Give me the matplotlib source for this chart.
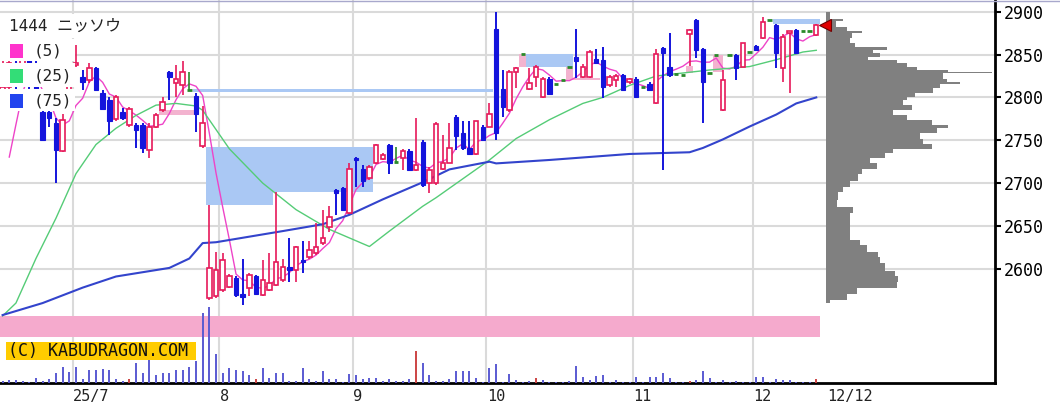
import numpy as np
import matplotlib
matplotlib.use("Agg")
import matplotlib.pyplot as plt
from matplotlib.patches import Rectangle
from matplotlib.lines import Line2D

# ---- daily candles, index 0 = 2025-06-16 ... 122 = 2025-12-12 ----
opens = [2800, 2812, 2840, 2830, 2845, 2815, 2783, 2783, 2770, 2738,
         2790, 2838, 2824, 2820, 2834, 2805, 2797, 2775, 2783, 2768,
         2768, 2768, 2739, 2766, 2785, 2830, 2817, 2815, 2809, 2802,
         2743, 2566, 2568, 2575, 2579, 2589, 2571, 2578, 2591, 2569,
         2575, 2581, 2587, 2602, 2599, 2610, 2614, 2618, 2630, 2649,
         2692, 2694, 2665, 2729, 2717, 2706, 2723, 2728, 2744, 2725,
         2729, 2738, 2715, 2748, 2700, 2700, 2716, 2724, 2777, 2758,
         2741, 2734, 2766, 2766, 2880, 2810, 2785, 2830, 2851, 2810,
         2824, 2800, 2822, 2816, 2820, 2836, 2847, 2824, 2824, 2845,
         2844, 2814, 2820, 2826, 2818, 2822, 2812, 2816, 2793, 2858,
         2836, 2827, 2826, 2874, 2890, 2857, 2828, 2850, 2785, 2850,
         2850, 2836, 2853, 2860, 2869, 2890, 2885, 2834, 2875, 2879,
         2877, 2877, 2873]
highs = [2845, 2848, 2850, 2855, 2850, 2845, 2790, 2790, 2776, 2781,
         2830, 2861, 2832, 2840, 2836, 2809, 2801, 2803, 2788, 2789,
         2770, 2770, 2770, 2782, 2801, 2831, 2838, 2842, 2830, 2805,
         2790, 2675, 2620, 2618, 2594, 2591, 2612, 2595, 2593, 2610,
         2618, 2690, 2611, 2636, 2627, 2632, 2632, 2653, 2669, 2673,
         2693, 2695, 2723, 2730, 2721, 2721, 2746, 2735, 2746, 2742,
         2740, 2740, 2776, 2750, 2719, 2771, 2756, 2770, 2779, 2772,
         2772, 2773, 2768, 2794, 2900, 2832, 2832, 2835, 2851, 2834,
         2838, 2824, 2824, 2816, 2820, 2836, 2880, 2839, 2855, 2857,
         2859, 2826, 2827, 2827, 2823, 2824, 2812, 2818, 2857, 2859,
         2875, 2827, 2826, 2880, 2891, 2858, 2828, 2850, 2832, 2850,
         2851, 2864, 2853, 2861, 2894, 2890, 2886, 2874, 2877, 2880,
         2877, 2877, 2886]
lows = [2795, 2805, 2810, 2815, 2805, 2795, 2750, 2766, 2700, 2736,
        2788, 2836, 2809, 2817, 2808, 2785, 2756, 2772, 2774, 2766,
        2741, 2735, 2729, 2764, 2783, 2797, 2801, 2803, 2808, 2760,
        2741, 2564, 2566, 2573, 2577, 2567, 2558, 2568, 2569, 2568,
        2574, 2580, 2585, 2585, 2585, 2595, 2612, 2616, 2628, 2643,
        2663, 2668, 2664, 2696, 2696, 2704, 2722, 2727, 2711, 2723,
        2715, 2714, 2714, 2696, 2688, 2698, 2715, 2723, 2739, 2739,
        2733, 2733, 2749, 2765, 2750, 2777, 2783, 2811, 2851, 2809,
        2812, 2799, 2803, 2816, 2820, 2836, 2823, 2823, 2823, 2839,
        2799, 2812, 2812, 2808, 2816, 2800, 2812, 2808, 2792, 2715,
        2824, 2827, 2826, 2837, 2846, 2770, 2828, 2850, 2784, 2850,
        2820, 2835, 2853, 2854, 2868, 2890, 2834, 2818, 2805, 2851,
        2877, 2877, 2872]
closes = [2812, 2840, 2830, 2845, 2815, 2800, 2750, 2776, 2739, 2774,
          2824, 2840, 2818, 2834, 2809, 2787, 2772, 2800, 2776, 2787,
          2762, 2741, 2766, 2780, 2795, 2824, 2821, 2830, 2809, 2781,
          2770, 2601, 2598, 2610, 2591, 2569, 2567, 2593, 2571, 2587,
          2583, 2608, 2602, 2598, 2626, 2608, 2622, 2626, 2636, 2661,
          2689, 2669, 2717, 2727, 2702, 2719, 2744, 2733, 2723, 2725,
          2738, 2715, 2721, 2698, 2715, 2769, 2724, 2741, 2755, 2741,
          2734, 2772, 2750, 2781, 2758, 2789, 2830, 2834, 2851, 2817,
          2836, 2822, 2804, 2816, 2820, 2836, 2842, 2836, 2853, 2840,
          2812, 2824, 2825, 2809, 2822, 2801, 2812, 2809, 2851, 2852,
          2826, 2827, 2826, 2879, 2855, 2818, 2828, 2850, 2820, 2850,
          2834, 2863, 2853, 2855, 2888, 2890, 2852, 2871, 2877, 2852,
          2877, 2877, 2884]
prior_closes = [2610, 2640, 2660, 2700]   # closes before the window, for MA5

volumes = [2, 3, 3, 2, 1, 5, 2, 4, 10, 16,
           11, 16, 4, 13, 13, 14, 13, 4, 2, 4,
           20, 10, 23, 8, 10, 10, 13, 13, 16, 22,
           70, 76, 29, 10, 15, 13, 12, 8, 4, 15,
           5, 10, 10, 2, 2, 15, 4, 2, 12, 4,
           4, 1, 9, 8, 4, 5, 5, 2, 4, 2,
           2, 4, 32, 20, 8, 2, 2, 4, 12, 12,
           12, 5, 1, 15, 19, 1, 9, 3, 1, 2,
           5, 3, 1, 1, 1, 2, 17, 6, 3, 7,
           8, 1, 3, 1, 1, 6, 1, 6, 6, 10,
           5, 1, 1, 2, 3, 12, 5, 1, 3, 1,
           2, 1, 1, 6, 6, 1, 4, 3, 3, 1,
           1, 1, 4]
vol_red_days = [19, 38, 62, 80, 103, 122]

# moving averages (day index, price)
ma25_idx = [0, 2, 5, 8, 11, 14, 17, 20, 23, 26, 29, 30, 34, 39, 44, 49, 55, 58,
            63, 65, 73, 77, 82, 87, 90, 94, 98, 106, 112, 116, 120, 122]
ma25_val = [2545, 2560, 2612, 2659, 2711, 2745, 2764, 2779, 2791, 2793, 2790, 2785,
            2740, 2700, 2669, 2646, 2626, 2644, 2673, 2683, 2727, 2752, 2774, 2793,
            2800, 2814, 2825, 2832, 2836, 2844, 2853, 2855]
ma75_idx = [0, 3, 6, 12, 17, 25, 28, 30, 32, 42, 48, 52, 57, 63, 67, 73, 74, 82,
            94, 103, 105, 108, 112, 116, 119, 122]
ma75_val = [2546, 2553, 2560, 2578, 2591, 2601, 2612, 2630, 2631, 2644, 2652, 2663,
            2681, 2701, 2716, 2725, 2723, 2727, 2734, 2736, 2741, 2751, 2766, 2780,
            2793, 2800]

# price gaps: start day, end day, low, high, up/down
gap_x0 = [23.5, 28.5, 30.5, 30.5, 77.5, 78.5, 84.5, 85.5, 102.5, 106.5, 115.5]
gap_x1 = [29.5, 73.5, 55.5, 40.5, 78.5, 85.5, 85.5, 89.5, 103.5, 108.0, 122.5]
gap_lo = [2779, 2806, 2690, 2674, 2835, 2836, 2820, 2820, 2828, 2830, 2886]
gap_hi = [2785, 2810, 2742, 2690, 2851, 2851, 2836, 2823, 2837, 2850, 2891]
gap_up = [True, False, False, False, True, False, True, True, True, True, False]

# volume by price (right histogram)
vp_edges = [2560, 2564, 2570, 2578, 2584, 2591, 2597, 2607, 2614, 2620, 2628, 2634,
            2654, 2665, 2672, 2680, 2690, 2695, 2703, 2711, 2717, 2723, 2729, 2735,
            2740, 2746, 2752, 2758, 2764, 2768, 2774, 2780, 2785, 2791, 2797, 2800,
            2805, 2811, 2816, 2818, 2822, 2828, 2830, 2832, 2835, 2840, 2844, 2847,
            2852, 2855, 2859, 2863, 2869, 2875, 2877, 2882, 2889, 2891, 2900]
vp_vol = [4, 21, 31, 71, 72, 69, 59, 54, 52, 41, 34, 24, 24, 27, 11, 12, 17, 24, 32,
          36, 51, 44, 59, 67, 106, 97, 94, 111, 122, 106, 81, 67, 86, 77, 81, 89, 107,
          114, 134, 121, 117, 166, 122, 91, 81, 71, 42, 54, 47, 61, 29, 24, 26, 36,
          21, 10, 17, 4]

month_idx = [10.5, 32.5, 52.5, 72.5, 94.5, 112.5]
month_labels = ["25/7", "8", "9", "10", "11", "12"]
last_label = "12/12"
y_ticks = [2600, 2650, 2700, 2750, 2800, 2850, 2900]

RED = "#e6195a"
BLUE = "#1414dc"
GREEN = "#2a8a2a"

W, H = 1060, 417
fig = plt.figure(figsize=(W / 100, H / 100), dpi=100)
rect = [0, 1 - 383 / H, 995 / W, 383 / H]
ax = fig.add_axes(rect)
ax.set_xlim(-0.39, 148.8)
ax.set_ylim(2466.7, 2913.7)

ax.set_axisbelow(True)
ax.set_xticks(month_idx)
ax.set_yticks(y_ticks)
ax.grid(True, color="#dadada", lw=1.5)
ax.yaxis.tick_right()
ax.tick_params(axis="x", length=0, labelbottom=False)
ax.tick_params(axis="y", direction="out", length=4, width=1.5, pad=2, labelsize=12)
for lab in ax.get_yticklabels():
    lab.set_family("DejaVu Sans Mono")
for s in ["left", "top"]:
    ax.spines[s].set_visible(False)
for s in ["right", "bottom"]:
    ax.spines[s].set_linewidth(2)
    ax.spines[s].set_color("black")

n = len(closes)
idx = np.arange(n)
o = np.array(opens, float)
h = np.array(highs, float)
l = np.array(lows, float)
c = np.array(closes, float)

# pink band under the chart
ax.add_patch(Rectangle((-0.39, 2520.4), 122.55 + 0.39, 24.6, facecolor="#f5aacd",
                       edgecolor="none", zorder=1.2))

# gaps
for x0, x1, lo, hi, up in zip(gap_x0, gap_x1, gap_lo, gap_hi, gap_up):
    ax.add_patch(Rectangle((x0, lo), x1 - x0, hi - lo,
                           facecolor="#f3b3cf" if up else "#aac8f4",
                           edgecolor="none", zorder=1.5))

# volume profile
vp_left = 123.45
vp_scale = 24.9 / 166
for lo, hi, v in zip(vp_edges[:-1], vp_edges[1:], vp_vol):
    ax.add_patch(Rectangle((vp_left, lo), v * vp_scale, hi - lo,
                           facecolor="#808080", edgecolor="none", zorder=2))

# moving averages
all_c = np.concatenate([prior_closes, c])
ma5 = np.convolve(all_c, np.ones(5) / 5, mode="valid")
ax.plot(idx[1:], ma5[1:], color="#ee44c8", lw=1.0, zorder=3)
ax.plot(ma25_idx, ma25_val, color="#55cc77", lw=1.0, zorder=3)
ax.plot(ma75_idx, ma75_val, color="#3344cc", lw=1.5, zorder=3)

# candles
up = c > o
dn = c < o
eq = c == o
bw = 0.66
ax.vlines(idx[up], l[up], h[up], color=RED, lw=1.2, zorder=4)
ax.vlines(idx[dn], l[dn], h[dn], color=BLUE, lw=1.4, zorder=4)
ax.vlines(idx[eq], l[eq], h[eq], color=GREEN, lw=1.2, zorder=4)
body_lo = np.minimum(o, c)
body_h = np.maximum(np.abs(c - o), 1.0)
ax.bar(idx[up], body_h[up], bottom=body_lo[up], width=bw, facecolor="white",
       edgecolor=RED, linewidth=1.2, zorder=5)
ax.bar(idx[dn], body_h[dn], bottom=body_lo[dn], width=bw, facecolor=BLUE,
       edgecolor=BLUE, linewidth=0.8, zorder=5)
ax.hlines(c[eq], idx[eq] - bw / 2, idx[eq] + bw / 2, color=GREEN, lw=2, zorder=5)

# last price marker
ax.plot([123.3], [closes[-1]], marker="<", markersize=9, color="#e00000",
        markeredgecolor="#700000", markeredgewidth=0.8, zorder=8, clip_on=False)

# volume on an overlaid axes
ax_v = fig.add_axes(rect, sharex=ax, facecolor="none")
ax_v.set_ylim(0, max(volumes) * 383 / 76)
ax_v.axis("off")
vcol = [("#cc4444" if i in vol_red_days else "#5a5ad2") for i in idx]
ax_v.vlines(idx, 0, volumes, colors=vcol, lw=1.4)
ax_v.set_xlim(-0.39, 148.8)

# month labels
tr = ax.get_xaxis_transform()
for m, lab in zip(month_idx, month_labels):
    ax.text(m + 0.1, -0.034, lab, transform=tr, ha="left", va="center",
            fontsize=11, family="DejaVu Sans Mono", color="#222222")
ax.text(123.6, -0.034, last_label, transform=tr, ha="left", va="center",
        fontsize=11, family="DejaVu Sans Mono", color="#222222")


def fx(px):
    return px / W


def fy(py):
    return 1 - py / H


# legend block (white rows over the candles)
for y0, y1 in [(14, 38), (39, 61), (63, 87), (89, 111)]:
    fig.add_artist(Rectangle((fx(0), fy(y1)), fx(75), (y1 - y0) / H,
                             transform=fig.transFigure, facecolor="white",
                             edgecolor="none", zorder=5))
fig.text(fx(9), fy(26), "1444 ニッソウ", fontsize=11.5, va="center", ha="left",
         family=["DejaVu Sans Mono", "Noto Sans CJK JP"], color="#222222", zorder=6)
leg_cols = ["#ff33cc", "#33dd77", "#2244ee"]
leg_txt = ["(5)", "(25)", "(75)"]
for k, (col, t) in enumerate(zip(leg_cols, leg_txt)):
    yc = 51 + 25 * k
    fig.add_artist(Rectangle((fx(10), fy(yc + 6.5)), fx(13), 13 / H,
                             transform=fig.transFigure, facecolor=col,
                             edgecolor="none", zorder=6))
    fig.text(fx(34), fy(yc), t, fontsize=11.5, va="center", ha="left",
             family="DejaVu Sans Mono", color="#222222", zorder=6)

# copyright tag
fig.add_artist(Rectangle((fx(6), fy(360)), fx(190), 18 / H, transform=fig.transFigure,
                         facecolor="#ffcc00", edgecolor="none", zorder=6))
fig.text(fx(8), fy(351), "(C) KABUDRAGON.COM", fontsize=12, va="center", ha="left",
         family="DejaVu Sans Mono", color="#111111", zorder=7)

# thin frame line at the very top
fig.add_artist(Line2D([0, 1], [fy(0.5), fy(0.5)], transform=fig.transFigure,
                      color="#a8a8cc", lw=1))

fig.savefig("out.png", dpi=100, facecolor="white")
